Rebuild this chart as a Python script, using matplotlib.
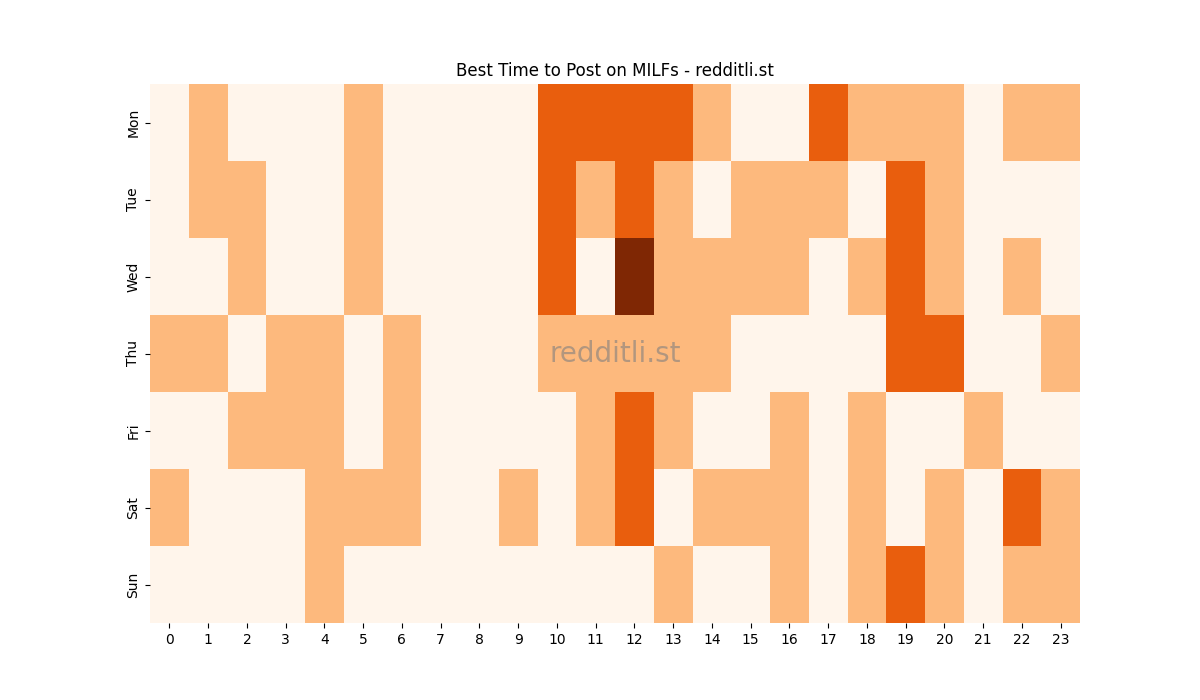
import matplotlib
matplotlib.use('Agg')
import matplotlib.pyplot as plt
import numpy as np
import seaborn as sns

days = ["Mon", "Tue", "Wed", "Thu", "Fri", "Sat", "Sun"]
hours = list(range(24))

# activity level per day (rows) and hour (columns), 0..3
mon = [0, 1, 0, 0, 0, 1, 0, 0, 0, 0, 2, 2, 2, 2, 1, 0, 0, 2, 1, 1, 1, 0, 1, 1]
tue = [0, 1, 1, 0, 0, 1, 0, 0, 0, 0, 2, 1, 2, 1, 0, 1, 1, 1, 0, 2, 1, 0, 0, 0]
wed = [0, 0, 1, 0, 0, 1, 0, 0, 0, 0, 2, 0, 3, 1, 1, 1, 1, 0, 1, 2, 1, 0, 1, 0]
thu = [1, 1, 0, 1, 1, 0, 1, 0, 0, 0, 1, 1, 1, 1, 1, 0, 0, 0, 0, 2, 2, 0, 0, 1]
fri = [0, 0, 1, 1, 1, 0, 1, 0, 0, 0, 0, 1, 2, 1, 0, 0, 1, 0, 1, 0, 0, 1, 0, 0]
sat = [1, 0, 0, 0, 1, 1, 1, 0, 0, 1, 0, 1, 2, 0, 1, 1, 1, 0, 1, 0, 1, 0, 2, 1]
sun = [0, 0, 0, 0, 1, 0, 0, 0, 0, 0, 0, 0, 0, 1, 0, 0, 1, 0, 1, 2, 1, 0, 1, 1]

data = np.array([mon, tue, wed, thu, fri, sat, sun])

fig, ax = plt.subplots(figsize=(12, 7), dpi=100)
sns.heatmap(data, cmap="Oranges", vmin=0, vmax=3, cbar=False, ax=ax,
            xticklabels=hours, yticklabels=days)
ax.set_title("Best Time to Post on MILFs - redditli.st")
ax.tick_params(axis='x', rotation=0)
ax.tick_params(axis='y', rotation=90)
ax.text(0.5, 0.5, "redditli.st", transform=ax.transAxes, fontsize=20,
        color="grey", alpha=0.6, ha="center", va="center")

plt.savefig("out.png", dpi=100)
